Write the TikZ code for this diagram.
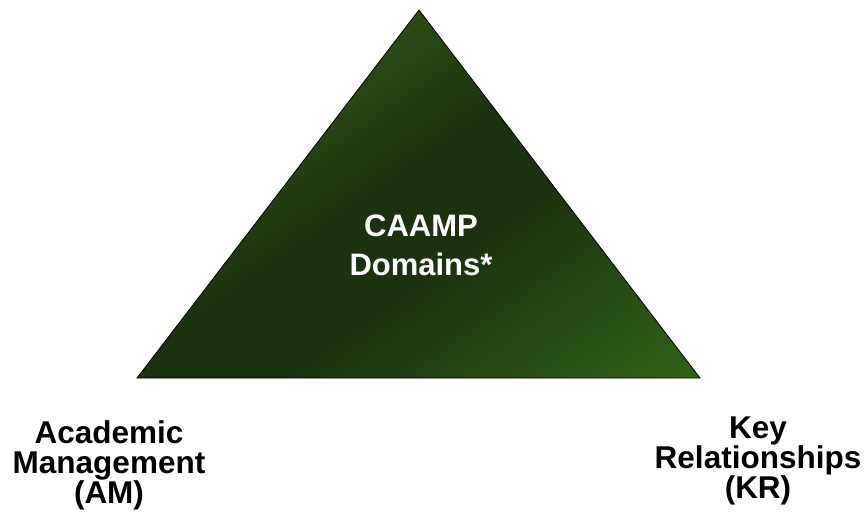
\documentclass[tikz,border=0pt]{standalone}
\usepackage{fontspec}
\setmainfont{Liberation Sans}
\usepackage{xcolor}
\usepackage{tikz}
\usetikzlibrary{positioning}
\definecolor{leafhi}{HTML}{2C5014}
\definecolor{leafdark}{HTML}{1A320E}
\definecolor{leaflow}{HTML}{316618}
\pgfdeclareverticalshading{leafgrad}{100bp}{color(0bp)=(leaflow); color(22bp)=(leaflow); color(44bp)=(leafdark); color(52bp)=(leafdark); color(64bp)=(leafhi); color(100bp)=(leafhi)}

\begin{document}
\begin{tikzpicture}[x=1pt,y=1pt,line width=0.8pt,
  centrelabel/.style={align=center,inner sep=0pt,font=\fontsize{31}{39}\selectfont\bfseries},
  cornerlabel/.style={align=center,inner sep=0pt,font=\fontsize{31.5}{30}\selectfont\bfseries}]
\useasboundingbox (0,0) rectangle (868,-523);
  \coordinate (apex) at (419,-10);
  \coordinate (left) at (137,-378);
  \coordinate (right) at (700,-378);
  \begin{scope}
    \clip (apex) -- (left) -- (right) -- cycle;
    \shade[shading=leafgrad,shading angle=35] (133,-479) rectangle (703,91);
  \end{scope}
  \draw (apex) -- (left) -- (right) -- cycle;
  \node[centrelabel,text=white] at (421,-245) (caamp){CAAMP\\Domains*};

  \node[cornerlabel] at (109,-465) (am){Academic\\Management\\(AM)};
  \node[cornerlabel] at (758,-461) (kr){Key\\Relationships\\(KR)};
  \end{tikzpicture}
\end{document}
